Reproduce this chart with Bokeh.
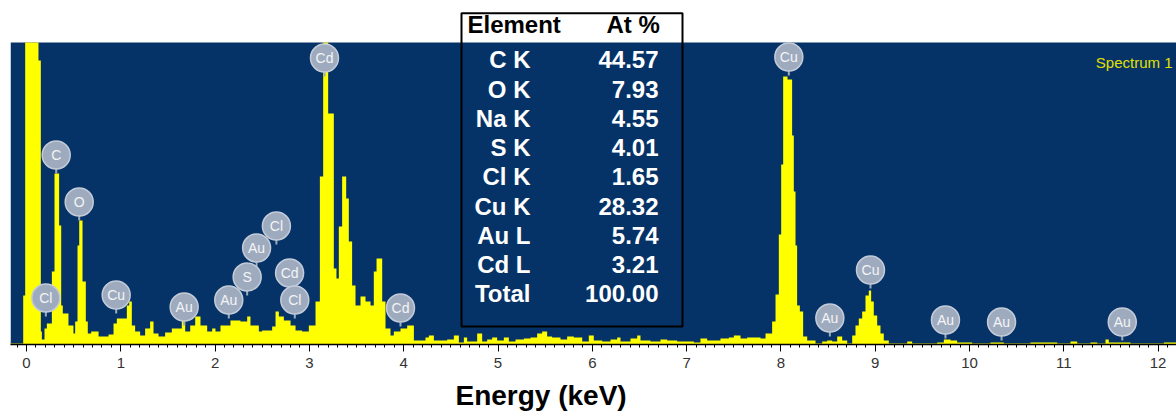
from bokeh.plotting import figure
from bokeh.models import Range1d, SingleIntervalTicker, Label, BoxAnnotation, ColumnDataSource, Title
from bokeh.core.properties import value
from bokeh.embed import file_html
from bokeh.resources import INLINE

# ---------------- data (bin start in keV, counts) ----------------
energy_kev = [
    -0.170, -0.035, -0.014, 0.127, 0.152, 0.163, 0.191, 0.216, 0.269, 0.297, 0.346, 0.368,
    0.385, 0.445, 0.498, 0.516, 0.541, 0.559, 0.594, 0.629, 0.650, 0.686, 0.764, 0.870,
    0.923, 0.958, 1.064, 1.089, 1.117, 1.152, 1.205, 1.258, 1.311, 1.347, 1.400, 1.470,
    1.541, 1.647, 1.683, 1.736, 1.789, 1.845, 1.916, 1.969,
    2.004, 2.057, 2.163, 2.269, 2.340, 2.375, 2.464, 2.499, 2.605, 2.641, 2.676, 2.729,
    2.800, 2.853, 2.923, 2.994,
    3.065, 3.111, 3.146, 3.199, 3.259, 3.287, 3.312, 3.347, 3.390, 3.418, 3.453, 3.489,
    3.542, 3.595, 3.648, 3.683, 3.712, 3.772, 3.807, 3.860, 3.895, 3.966, 4.037,
    4.108, 4.231, 4.267, 4.320, 4.461, 4.532, 4.585, 4.638, 4.673, 4.779, 4.832, 4.885,
    4.938, 4.991, 5.062, 5.115, 5.186, 5.274, 5.345, 5.415, 5.468, 5.521, 5.574, 5.663,
    5.733, 5.804, 5.893, 5.963, 6.016, 6.105, 6.193, 6.264, 6.299, 6.405, 6.476, 6.511,
    6.617, 6.723, 6.794, 6.900, 7.077, 7.147, 7.218, 7.359, 7.448, 7.501, 7.572, 7.642,
    7.784,
    7.837, 7.907, 7.943, 7.978, 8.003, 8.024, 8.070, 8.119, 8.137, 8.155, 8.172, 8.201,
    8.236, 8.279, 8.367, 8.438, 8.491, 8.544, 8.597, 8.650, 8.703, 8.756, 8.791, 8.826,
    8.862, 8.897, 8.932, 8.957, 8.985, 9.021, 9.056, 9.091, 9.144,
    9.339, 9.392, 9.586, 9.657, 9.728, 9.799, 9.869, 10.028, 10.223, 10.364, 10.647, 10.930,
    11.071, 11.142, 11.283, 11.354, 11.442, 11.477, 11.707, 11.778, 11.990, 12.061, 12.200,
]
counts = [
    0, 49, 400, 284, 13, 5, 16, 21, 73, 171, 119, 39,
    31, 19, 11, 23, 99, 124, 63, 23, 11, 13, 8, 10,
    21, 26, 39, 43, 19, 13, 9, 16, 23, 11, 8, 12,
    16, 24, 13, 19, 28, 19, 13, 16,
    13, 19, 24, 23, 28, 19, 13, 14, 18, 33, 28, 24,
    19, 14, 13, 19,
    43, 168, 310, 231, 76, 66, 118, 168, 146, 103, 59, 39,
    48, 43, 39, 73, 86, 43, 16, 9, 13, 16, 19,
    4, 7, 9, 4, 5, 9, 2, 7, 3, 11, 3, 5,
    7, 4, 7, 3, 5, 6, 7, 11, 13, 8, 7, 5,
    8, 7, 3, 9, 4, 3, 5, 7, 3, 6, 9, 4,
    3, 5, 4, 3, 2, 6, 4, 6, 7, 9, 6, 7,
    6,
    11, 23, 50, 110, 180, 268, 265, 209, 153, 99, 39, 33,
    8, 4, 1, 3, 4, 3, 8, 4, 1, 9, 19, 26,
    33, 49, 54, 43, 29, 19, 11, 4, 1,
    3, 1, 1, 2, 5, 4, 2, 1, 2, 1, 2, 1,
    3, 1, 2, 1, 5, 2, 1, 1, 1, 2, 2,
]

# element markers: label, energy (keV), height of the stem foot (counts)
marker_labels = ["Cl", "C", "O", "Cu", "Au", "Au", "S", "Au", "Cl", "Cd", "Cl",
                 "Cd", "Cd", "Cu", "Au", "Cu", "Au", "Au", "Au"]
marker_kev = [0.205, 0.315, 0.559, 0.951, 1.672, 2.145, 2.340, 2.440, 2.650, 2.790, 2.845,
              3.160, 3.966, 8.084, 8.519, 8.950, 9.745, 10.340, 11.620]
marker_height = [28, 171, 124, 31, 19, 26, 49, 78, 100, 53, 26,
                 268, 18, 269, 8, 56, 6, 4, 4]

# quantification table
table_elements = ["C K", "O K", "Na K", "S K", "Cl K", "Cu K", "Au L", "Cd L", "Total"]
table_at_pct = [44.57, 7.93, 4.55, 4.01, 1.65, 28.32, 5.74, 3.21, 100.00]

# ---------------- layout helpers (page pixel -> data) ----------------
PX0, PPK, BASE = 26.0, 94.3, 344.0
FULL = 302  # counts shown at the top of the spectrum panel
def kev_at(px):
    return (px - PX0) / PPK
def cnt_at(py):
    return BASE - py

BG = "#063367"
FONT = "Liberation Sans"

p = figure(width=1176, height=418, output_backend="svg", toolbar_location=None,
           x_range=Range1d(kev_at(10), kev_at(1176)), y_range=Range1d(0, BASE),
           y_axis_location=None,
           min_border_left=10, min_border_right=0, min_border_top=0, min_border_bottom=74)
p.background_fill_color = "white"
p.border_fill_color = "white"
p.outline_line_color = None
p.xgrid.visible = False
p.ygrid.visible = False

# dark spectrum panel (counts 0 .. FULL)
p.add_layout(BoxAnnotation(bottom=0, top=FULL, fill_color=BG, fill_alpha=1,
                           line_alpha=0, level="underlay"))

# spectrum (clipped at the panel top)
src = ColumnDataSource(dict(x=energy_kev, y=[min(max(c, 1), FULL) for c in counts]))
p.varea_step(x="x", y1=0, y2="y", step_mode="after", fill_color="#ffff00", source=src)

# marker badges
LIFT = 18.5
msrc = ColumnDataSource(dict(
    x=marker_kev, y0=marker_height, yc=[h + LIFT for h in marker_height], t=marker_labels))
p.segment(x0="x", y0="y0", x1="x", y1="yc", line_color="#9eabbf", line_width=2, source=msrc)
p.scatter(x="x", y="yc", size=28, marker="circle", fill_color="#9eabbf",
          line_color="#c3cbd8", line_width=1.5, source=msrc)
p.text(x="x", y="yc", text="t", text_align="center", text_baseline="middle",
       text_color="#f4f4f4", text_font=value(FONT), text_font_size="14px", source=msrc)

# x axis
ax = p.xaxis[0]
ax.ticker = SingleIntervalTicker(interval=1, num_minor_ticks=10)
ax.axis_line_color = "black"
ax.axis_line_width = 1.5
ax.major_tick_line_color = "black"
ax.minor_tick_line_color = "black"
ax.major_tick_in = 0
ax.major_tick_out = 7
ax.minor_tick_in = 0
ax.minor_tick_out = 3
ax.major_label_standoff = 6
ax.major_label_text_font = FONT
ax.major_label_text_font_size = "15px"
ax.major_label_text_color = "#333333"

p.add_layout(Title(text="Energy (keV)", align="left", offset=445, standoff=14,
                   text_font=FONT, text_font_size="28px", text_font_style="bold",
                   text_color="black"), "below")

# spectrum name
p.add_layout(Label(x=kev_at(1172), y=cnt_at(61.5), text="Spectrum 1", text_font=FONT,
                   text_font_size="15px", text_color="#e0e000", text_align="right",
                   text_baseline="alphabetic"))

# table
p.add_layout(BoxAnnotation(left=kev_at(461), right=kev_at(682), bottom=cnt_at(326),
                           top=cnt_at(12.7), fill_alpha=0, line_color="black", line_width=2,
                           line_alpha=1))
p.add_layout(Label(x=kev_at(467), y=cnt_at(37), text="Element", text_font=FONT,
                   text_font_size="24px", text_font_style="bold", text_color="black"))
p.add_layout(Label(x=kev_at(606), y=cnt_at(37), text="At %", text_font=FONT,
                   text_font_size="24px", text_font_style="bold", text_color="black"))
rows_y = [cnt_at(59.3 + i * 29.25) for i in range(len(table_elements))]
tsrc = ColumnDataSource(dict(
    xe=[kev_at(530)] * len(table_elements), xv=[kev_at(658)] * len(table_elements),
    y=rows_y, e=table_elements, v=[f"{v:.2f}" for v in table_at_pct]))
p.text(x="xe", y="y", text="e", text_align="right", text_baseline="middle",
       text_color="white", text_font=value(FONT), text_font_size="24px",
       text_font_style="bold", source=tsrc)
p.text(x="xv", y="y", text="v", text_align="right", text_baseline="middle",
       text_color="white", text_font=value(FONT), text_font_size="24px",
       text_font_style="bold", source=tsrc)

open("out.html", "w").write(file_html(p, INLINE))
